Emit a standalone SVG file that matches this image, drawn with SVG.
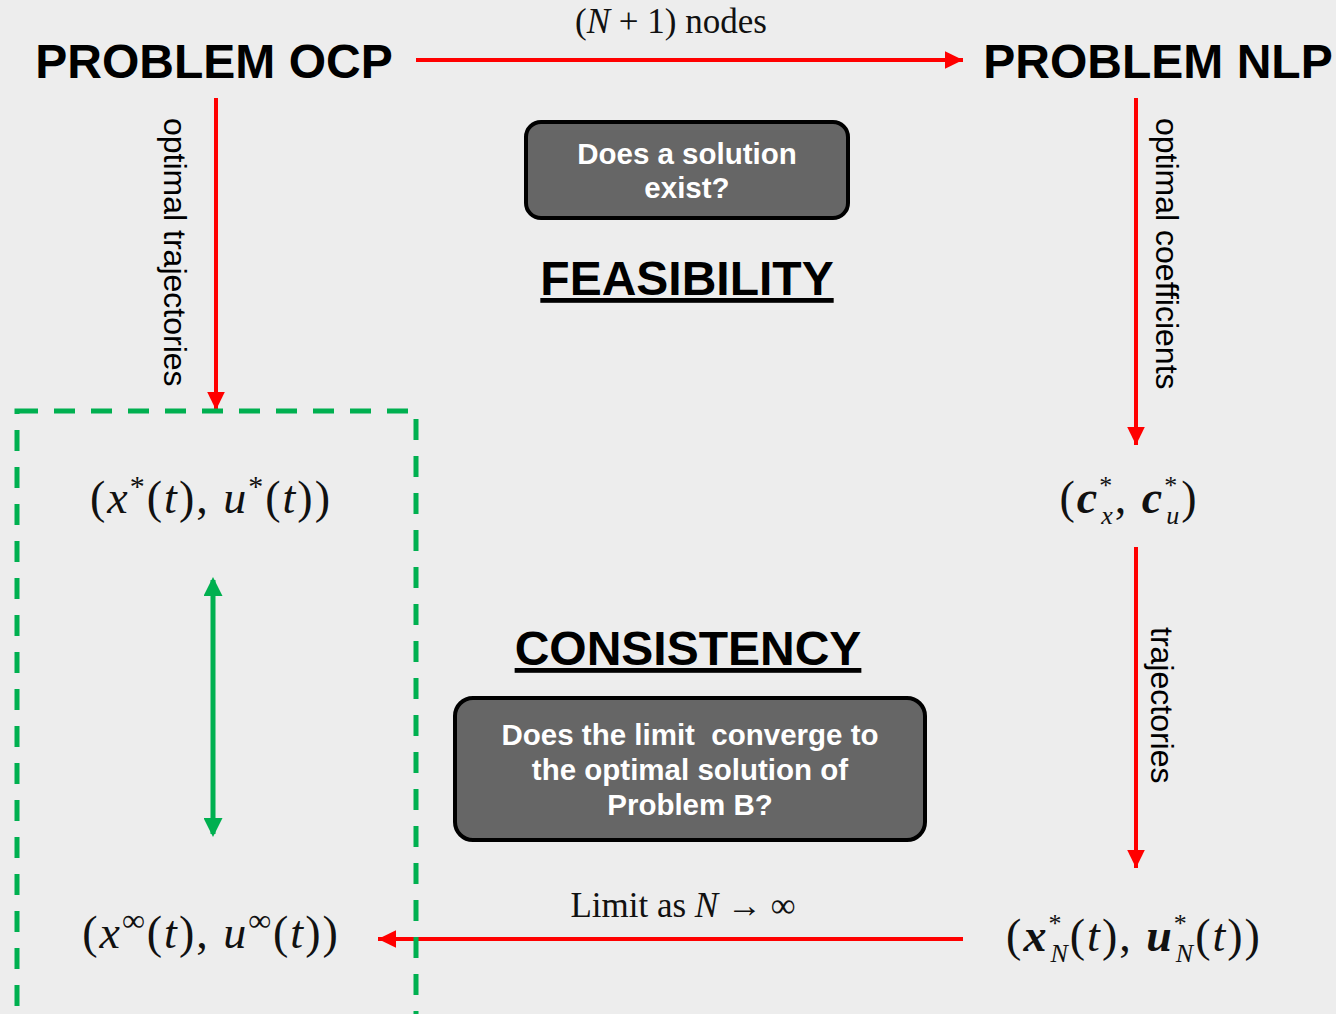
<svg xmlns="http://www.w3.org/2000/svg" width="1336" height="1014" viewBox="0 0 1336 1014">
<defs>
<style>
.title{font-family:"Liberation Sans",Arial,sans-serif;font-weight:bold;font-size:48px;fill:#000}
.head{font-family:"Liberation Sans",Arial,sans-serif;font-weight:bold;font-size:48px;fill:#000;text-decoration:underline}
.boxt{font-family:"Liberation Sans",Arial,sans-serif;font-weight:bold;font-size:29.5px;fill:#fff;white-space:pre}
.lbl{font-family:"Liberation Sans",Arial,sans-serif;font-size:32px;fill:#000}
.math{font-family:"Liberation Serif","Times New Roman",serif;font-size:46px;fill:#111;letter-spacing:2px}
.mathS{font-family:"Liberation Serif","Times New Roman",serif;font-size:35px;fill:#111}
.red{stroke:#ff0000;stroke-width:4;fill:none}
.box{fill:#666666;stroke:#000;stroke-width:4}
</style>
<marker id="ar" markerWidth="4.5" markerHeight="4.4" refX="4.5" refY="2.2" orient="auto" markerUnits="strokeWidth"><path d="M0,0 L4.5,2.2 L0,4.4 Z" fill="#ff0000"/></marker>
<marker id="ag" markerWidth="3.8" markerHeight="3.8" refX="3.2" refY="1.9" orient="auto" markerUnits="strokeWidth"><path d="M0,0 L3.8,1.9 L0,3.8 Z" fill="#00b050"/></marker>
<marker id="ags" markerWidth="3.8" markerHeight="3.8" refX="0.6" refY="1.9" orient="auto" markerUnits="strokeWidth"><path d="M3.8,0 L0,1.9 L3.8,3.8 Z" fill="#00b050"/></marker>
</defs>
<rect width="1336" height="1014" fill="#ededed"/>
<g id="connectors">
<line class="red" x1="416" y1="60" x2="963" y2="60" marker-end="url(#ar)"/>
<line class="red" x1="216" y1="98" x2="216" y2="410" marker-end="url(#ar)"/>
<line class="red" x1="1136" y1="98" x2="1136" y2="445" marker-end="url(#ar)"/>
<line class="red" x1="1136" y1="547" x2="1136" y2="868" marker-end="url(#ar)"/>
<line class="red" x1="963" y1="939" x2="378" y2="939" marker-end="url(#ar)"/>
<line x1="213" y1="580" x2="213" y2="834" stroke="#00b050" stroke-width="5" marker-start="url(#ags)" marker-end="url(#ag)"/>
<text class="mathS" x="671" y="33" text-anchor="middle">(<tspan font-style="italic">N</tspan> + 1) nodes</text>
<text class="mathS" x="683" y="917" text-anchor="middle">Limit as <tspan font-style="italic">N</tspan> → ∞</text>
<text class="lbl" transform="translate(164,118) rotate(90)">optimal trajectories</text>
<text class="lbl" transform="translate(1156,118) rotate(90)">optimal coefficients</text>
<text class="lbl" transform="translate(1151,627) rotate(90)">trajectories</text>
</g>
<g id="ocp"><text class="title" x="214" y="78" text-anchor="middle">PROBLEM OCP</text></g>
<g id="nlp"><text class="title" x="1158" y="78" text-anchor="middle">PROBLEM NLP</text></g>
<g id="feasibility-box">
<rect class="box" x="526" y="122" width="322" height="96" rx="15"/>
<text class="boxt" x="687" y="164" text-anchor="middle">Does a solution</text>
<text class="boxt" x="687" y="198" text-anchor="middle">exist?</text>
</g>
<g id="feasibility"><text class="head" x="687" y="295" text-anchor="middle">FEASIBILITY</text></g>
<g id="consistency"><text class="head" x="688" y="665" text-anchor="middle">CONSISTENCY</text></g>
<g id="consistency-box">
<rect class="box" x="455" y="698" width="470" height="142" rx="18"/>
<text class="boxt" x="690" y="745" text-anchor="middle" xml:space="preserve">Does the limit  converge to</text>
<text class="boxt" x="690" y="780" text-anchor="middle">the optimal solution of</text>
<text class="boxt" x="690" y="815" text-anchor="middle">Problem B?</text>
</g>
<g id="limit-set">
<rect x="17" y="411" width="399" height="620" fill="none" stroke="#00b050" stroke-width="5" stroke-dasharray="21,16"/>
</g>
<g id="xstar"><text class="math" x="211" y="513" text-anchor="middle">(<tspan font-style="italic">x</tspan><tspan dy="-17" font-size="30">*</tspan><tspan dy="17">(</tspan><tspan font-style="italic">t</tspan>), <tspan font-style="italic">u</tspan><tspan dy="-17" font-size="30">*</tspan><tspan dy="17">(</tspan><tspan font-style="italic">t</tspan>))</text></g>
<g id="coef"><text class="math" x="1129" y="513" text-anchor="middle">(<tspan font-style="italic" font-weight="bold">c</tspan><tspan dy="-19" font-size="26">*</tspan><tspan dx="-13" dy="30" font-size="26" font-style="italic">x</tspan><tspan dy="-11">, </tspan><tspan font-style="italic" font-weight="bold">c</tspan><tspan dy="-19" font-size="26">*</tspan><tspan dx="-13" dy="30" font-size="26" font-style="italic">u</tspan><tspan dy="-11">)</tspan></text></g>
<g id="xinf"><text class="math" x="211" y="948" text-anchor="middle">(<tspan font-style="italic">x</tspan><tspan dy="-17" font-size="32">∞</tspan><tspan dy="17">(</tspan><tspan font-style="italic">t</tspan>), <tspan font-style="italic">u</tspan><tspan dy="-17" font-size="32">∞</tspan><tspan dy="17">(</tspan><tspan font-style="italic">t</tspan>))</text></g>
<g id="xN"><text class="math" x="1134" y="951" text-anchor="middle">(<tspan font-style="italic" font-weight="bold">x</tspan><tspan dy="-19" font-size="26">*</tspan><tspan dx="-13" dy="30" font-size="26" font-style="italic">N</tspan><tspan dy="-11">(</tspan><tspan font-style="italic">t</tspan>), <tspan font-style="italic" font-weight="bold">u</tspan><tspan dy="-19" font-size="26">*</tspan><tspan dx="-13" dy="30" font-size="26" font-style="italic">N</tspan><tspan dy="-11">(</tspan><tspan font-style="italic">t</tspan>))</text></g>
</svg>
